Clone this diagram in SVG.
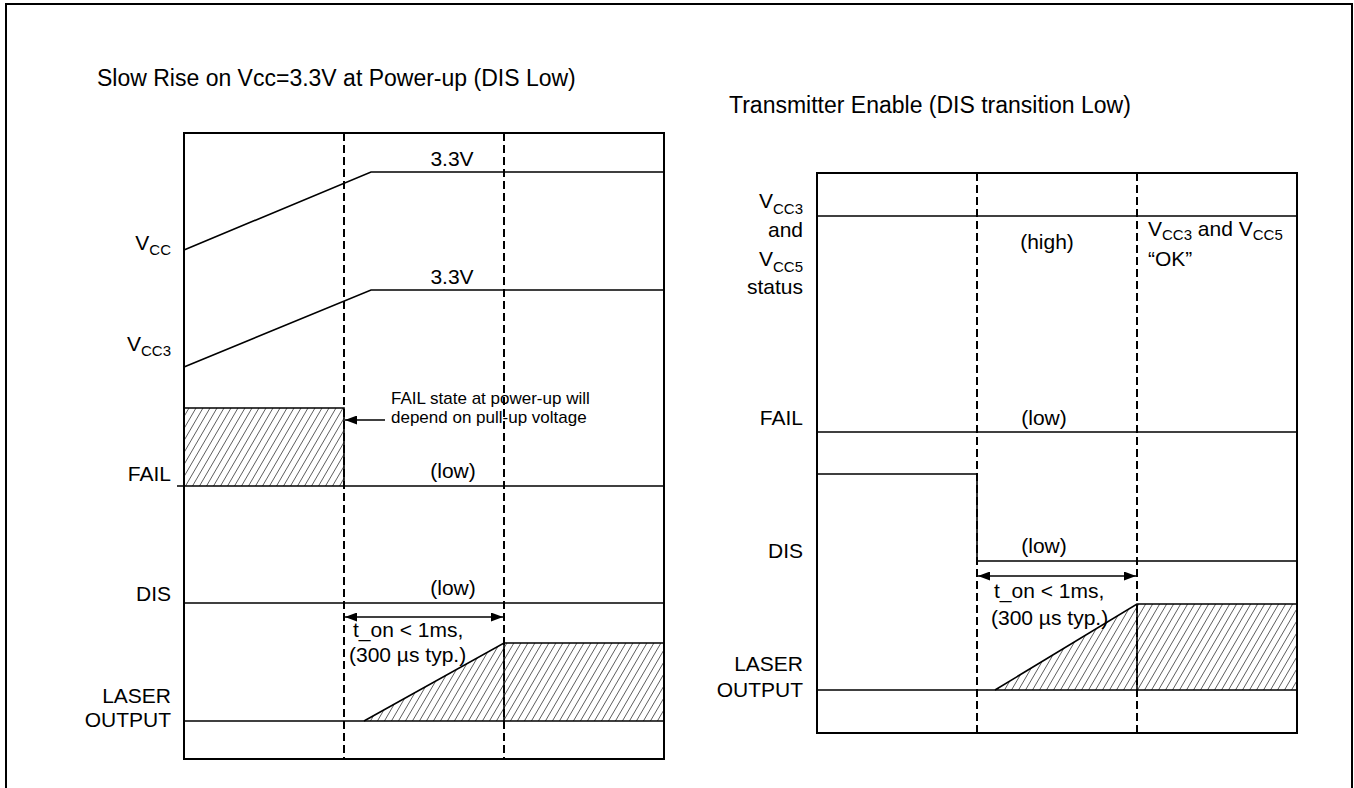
<svg xmlns="http://www.w3.org/2000/svg" width="1354" height="788" viewBox="0 0 1354 788">
<defs>
<style>
text{font-family:"Liberation Sans",Arial,sans-serif;fill:#000}
.t{font-size:23px}
.l{font-size:21px}
.r{text-anchor:end}
.m{text-anchor:middle}
.s{font-size:15px}
.a{font-size:17px}
.box{fill:none;stroke:#000;stroke-width:2}
.sig{fill:none;stroke:#000;stroke-width:1.6}
.dash{fill:none;stroke:#000;stroke-width:2;stroke-dasharray:8 4}
.hatch{fill:url(#h);stroke:none}
.conn{fill:none;stroke:#000;stroke-width:1.6}
</style>
<pattern id="h" patternUnits="userSpaceOnUse" width="7" height="12"><path d="M0 12L7 0M-7 12L0 0M7 12L14 0" stroke="#333" stroke-width="0.8"/></pattern>
<marker id="ah" viewBox="0 0 12 9" refX="12" refY="4.5" markerWidth="12" markerHeight="9" markerUnits="userSpaceOnUse" orient="auto-start-reverse"><path d="M0 0L12 4.5L0 9z" fill="#000"/></marker>
</defs>
<rect x="6" y="4" width="1346" height="800" fill="#fff" stroke="#000" stroke-width="2"/>

<g id="title-left"><text class="t" x="97" y="86">Slow Rise on Vcc=3.3V at Power-up (DIS Low)</text></g>
<g id="title-right"><text class="t" x="729" y="113">Transmitter Enable (DIS transition Low)</text></g>

<g id="chart-left">
<rect class="hatch" x="184" y="408" width="160" height="78"/>
<polygon class="hatch" points="364,721 504,643 664,643 664,721"/>
<rect class="box" x="184" y="133" width="480" height="626"/>
<line class="dash" x1="344" y1="133" x2="344" y2="759"/>
<line class="dash" x1="504" y1="133" x2="504" y2="759"/>
<polyline class="sig" points="184,250 371,172 664,172"/>
<polyline class="sig" points="184,367 371,290 664,290"/>
<path class="sig" d="M184 408H344V486"/>
<line class="sig" x1="177" y1="486" x2="664" y2="486"/>
<line class="sig" x1="184" y1="603" x2="664" y2="603"/>
<line class="sig" x1="184" y1="721" x2="664" y2="721"/>
<path class="sig" d="M364 721L504 643H664M504 643V721"/>
<text class="l m" x="452" y="166">3.3V</text>
<text class="l m" x="452" y="284">3.3V</text>
<text class="l r" x="171" y="250">V<tspan class="s" dy="5">CC</tspan></text>
<text class="l r" x="171" y="351">V<tspan class="s" dy="5">CC3</tspan></text>
<text class="l r" x="171" y="481">FAIL</text>
<text class="l r" x="171" y="601">DIS</text>
<text class="l r" x="171" y="703">LASER</text>
<text class="l r" x="171" y="727">OUTPUT</text>
<text class="l m" x="453" y="478">(low)</text>
<text class="l m" x="453" y="595">(low)</text>
<text class="a" x="391" y="404">FAIL state at power-up will</text>
<text class="a" x="391" y="423">depend on pull-up voltage</text>
<text class="l" x="353" y="637">t_on &lt; 1ms,</text>
<text class="l" x="349" y="662">(300 µs typ.)</text>
</g>

<g id="chart-right">
<polygon class="hatch" points="995,690 1137,604 1297,604 1297,690"/>
<rect class="box" x="817" y="173" width="480" height="560"/>
<line class="dash" x1="977" y1="173" x2="977" y2="733"/>
<line class="dash" x1="1137" y1="173" x2="1137" y2="733"/>
<line class="sig" x1="817" y1="216" x2="1297" y2="216"/>
<line class="sig" x1="817" y1="432" x2="1297" y2="432"/>
<polyline class="sig" points="817,474 977,474 977,561 1297,561"/>
<line class="sig" x1="817" y1="690" x2="1297" y2="690"/>
<path class="sig" d="M995 690L1137 604H1297M1137 604V690"/>
<text class="l r" x="803" y="208">V<tspan class="s" dy="6">CC3</tspan></text>
<text class="l r" x="803" y="237">and</text>
<text class="l r" x="803" y="266">V<tspan class="s" dy="6">CC5</tspan></text>
<text class="l r" x="803" y="294">status</text>
<text class="l m" x="1047" y="249">(high)</text>
<text class="l" x="1148" y="236">V<tspan class="s" dy="4">CC3</tspan><tspan dy="-4"> and V</tspan><tspan class="s" dy="4">CC5</tspan></text>
<text class="l" x="1148" y="266">“OK”</text>
<text class="l r" x="803" y="425">FAIL</text>
<text class="l m" x="1044" y="425">(low)</text>
<text class="l r" x="803" y="558">DIS</text>
<text class="l m" x="1044" y="553">(low)</text>
<text class="l" x="994" y="598">t_on &lt; 1ms,</text>
<text class="l" x="991" y="625">(300 µs typ.)</text>
<text class="l r" x="803" y="671">LASER</text>
<text class="l r" x="803" y="697">OUTPUT</text>
</g>

<g id="connectors">
<line class="conn" x1="385" y1="420" x2="345" y2="420" marker-end="url(#ah)"/>
<line class="conn" x1="345" y1="617" x2="503" y2="617" marker-start="url(#ah)" marker-end="url(#ah)"/>
<line class="conn" x1="978" y1="576" x2="1136" y2="576" marker-start="url(#ah)" marker-end="url(#ah)"/>
</g>
</svg>
